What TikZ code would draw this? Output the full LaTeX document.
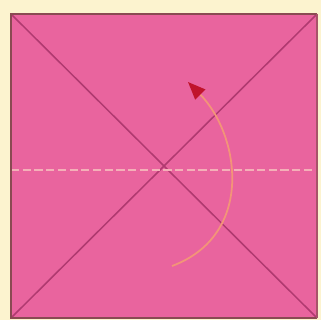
\documentclass[tikz,border=0pt]{standalone}
\usepackage{tikz}
\usetikzlibrary{arrows.meta}

\definecolor{paper}{HTML}{FCF3CF}
\definecolor{sheet}{HTML}{E9649E}
\definecolor{rim}{HTML}{8A4A52}
\definecolor{crease}{HTML}{B03A70}
\definecolor{fold}{HTML}{F4B0B8}
\definecolor{turn}{HTML}{F39478}
\definecolor{tip}{HTML}{C0142C}

\begin{document}
\begin{tikzpicture}[
  x=0.03cm, y=-0.03cm,
  creaseline/.style={draw=crease, line width=1.3},
  valley/.style={draw=fold, line width=1.6, dashed, dash pattern=on 7 off 3},
  turnarrow/.style={draw=turn, line width=1.5, -{Triangle[length=15pt, width=12pt, color=tip]}},
]
  % background and page size
  \fill[paper] (0,0) rectangle (321,320);
  \useasboundingbox (0,0) rectangle (321,320);

  % corners of the square sheet
  \coordinate (nw) at (11,14);
  \coordinate (ne) at (317,14);
  \coordinate (se) at (317,318);
  \coordinate (sw) at (11,318);

  \fill[sheet] (nw) rectangle (se);

  % diagonal creases
  \draw[creaseline] (nw) -- (se);
  \draw[creaseline] (ne) -- (sw);

  % middle fold line
  \coordinate (midw) at (11,170);
  \coordinate (mide) at (317,170);
  \draw[valley] (midw) -- (mide);

  % turn over arrow
  \coordinate (from) at (172,266);
  \coordinate (to) at (188,82);
  \draw[turnarrow] (from) .. controls (255,235) and (240,135) .. (to);

  % edge of the sheet
  \draw[rim, line width=2.4] (se) -- (sw) -- (nw) -- (ne);
  \draw[rim!70!sheet, line width=1.2] (ne) -- (se);
\end{tikzpicture}
\end{document}
